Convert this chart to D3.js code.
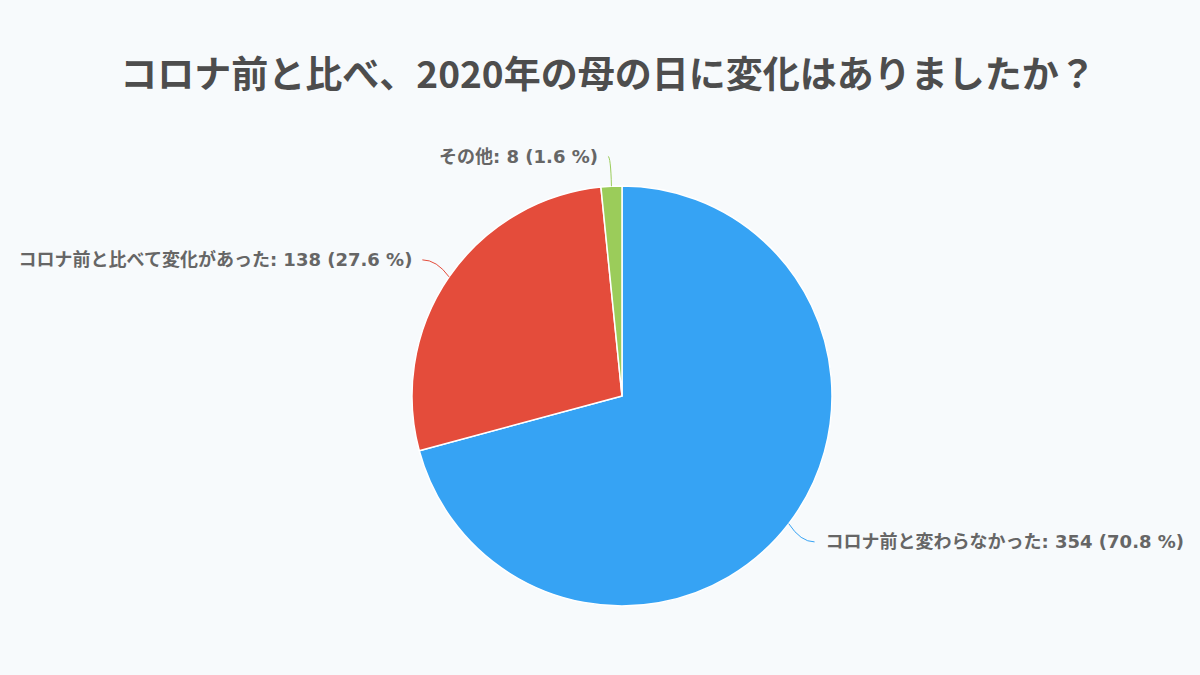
<!DOCTYPE html>
<html>
<head>
<meta charset="utf-8">
<script src="https://cdn.jsdelivr.net/npm/d3@7"></script>
<style>
  html, body { margin: 0; padding: 0; background: #f7fafc; }
  svg { display: block; }
</style>
</head>
<body>
<div id="chart"></div>
<script>
let title = "コロナ前と比べ、2020年の母の日に変化はありましたか？";
let categories = ["コロナ前と変わらなかった", "コロナ前と比べて変化があった", "その他"];
let counts = [354, 138, 8];
let percents = ["70.8", "27.6", "1.6"];
let colors = ["#36a3f4", "#e44c3b", "#9bcc5a"];

let width = 1200;
let height = 675;
let cx = 622, cy = 396, radius = 210;

let svg = d3
  .select("#chart")
  .append("svg")
  .attr("width", width)
  .attr("height", height);

svg.append("rect")
  .attr("width", width)
  .attr("height", height)
  .attr("fill", "#f7fafc");

svg.append("text")
  .attr("x", 608)
  .attr("y", 72)
  .attr("text-anchor", "middle")
  .attr("dominant-baseline", "central")
  .attr("font-family", "'Noto Sans CJK JP', sans-serif")
  .attr("font-weight", "bold")
  .attr("font-size", "37px")
  .attr("fill", "#4d4d4d")
  .text(title);

let data = categories.map((c, i) => ({ name: c, value: counts[i], pct: percents[i], color: colors[i] }));

let pie = d3.pie().sort(null).value(d => d.value);
let arc = d3.arc().innerRadius(0).outerRadius(radius);
let arcs = pie(data);

let g = svg.append("g").attr("transform", `translate(${cx},${cy})`);

g.selectAll("path.slice")
  .data(arcs)
  .join("path")
  .attr("class", "slice")
  .attr("d", arc)
  .attr("fill", d => d.data.color)
  .attr("stroke", "#ffffff")
  .attr("stroke-width", 1.5)
  .attr("stroke-linejoin", "round");

let polar = (a, r) => [Math.sin(a) * r, -Math.cos(a) * r];

arcs.forEach(d => {
  let mid = (d.startAngle + d.endAngle) / 2;
  let edge = polar(mid, radius);
  let anchor = polar(mid, radius + 30);
  let right = anchor[0] > 0;
  let p = d3.path();
  p.moveTo(edge[0], edge[1]);
  p.quadraticCurveTo((edge[0] + anchor[0]) / 2, anchor[1], anchor[0] + (right ? 2 : -2), anchor[1]);
  g.append("path")
    .attr("d", p.toString())
    .attr("fill", "none")
    .attr("stroke", d.data.color)
    .attr("stroke-width", 1);

  g.append("text")
    .attr("x", anchor[0] + (right ? 13 : -12))
    .attr("y", anchor[1])
    .attr("dy", "0.35em")
    .attr("text-anchor", right ? "start" : "end")
    .attr("font-family", "'DejaVu Sans', 'Noto Sans CJK JP', sans-serif")
    .attr("font-weight", "bold")
    .attr("font-size", "18px")
    .attr("fill", "#666666")
    .text(`${d.data.name}: ${d.data.value} (${d.data.pct} %)`);
});
</script>
</body>
</html>
